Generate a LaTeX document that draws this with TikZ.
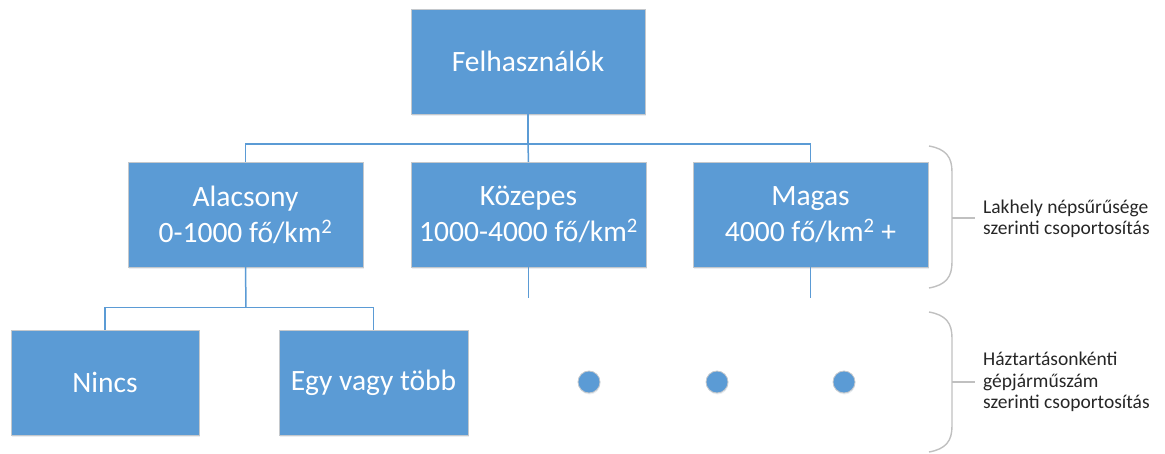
\documentclass[tikz,border=0pt]{standalone}
\usepackage{fontspec}
\setmainfont{Carlito}
\usetikzlibrary{shadows}
\definecolor{boxblue}{HTML}{5B9BD5}
\definecolor{boxedge}{HTML}{C4C8CC}
\definecolor{bracegray}{HTML}{C0C0C0}
\begin{document}
\begin{tikzpicture}[x=1pt,y=-1pt,
  unit/.style={rectangle, fill=boxblue, draw=boxedge, line width=0.8pt,
    text=white, align=center, inner sep=0pt, outer sep=0pt,
    minimum height=105pt,
    font=\fontsize{29.5}{36}\selectfont,
    drop shadow={shadow xshift=0.8pt, shadow yshift=-2pt, opacity=0.10, fill=boxblue!60!black}},
  wide/.style={unit, minimum width=235pt},
  narrow/.style={unit, minimum width=188pt},
  more/.style={circle, fill=boxblue, draw=boxedge, line width=0.8pt,
    minimum size=22pt, inner sep=0pt,
    drop shadow={shadow xshift=0.5pt, shadow yshift=-1.5pt, opacity=0.10, fill=boxblue!60!black}},
  conn/.style={draw=boxblue, line width=1.5pt},
  bracket/.style={draw=bracegray, line width=1.4pt},
  note/.style={anchor=west, align=left, inner sep=0pt, text=black!85,
    font=\fontsize{19.5}{21.5}\selectfont}]
\useasboundingbox (0,0) rectangle (1165,454);

% top level
\node[wide, minimum width=234pt] (F) at (528,61.5) {Felhasználók};

% population density groups
\node[wide] (A) at (245.5,214.5) {Alacsony\\0-1000 fő/km\textsuperscript{2}};
\node[wide] (K) at (528.5,214.5) {Közepes\\1000-4000 fő/km\textsuperscript{2}};
\node[wide] (M) at (810.5,214.5) {Magas\\4000 fő/km\textsuperscript{2} +};

% vehicle count groups
\node[narrow] (N) at (105,382.5) {Nincs};
\node[narrow, minimum width=189pt] (E) at (373.5,382.5) {Egy vagy több};
\node[more] (d1) at (589,382) {};
\node[more] (d2) at (717,382) {};
\node[more] (d3) at (844,382) {};

% connectors
\coordinate (bus) at (528,144);
\coordinate (abus) at (246,307.5);
\coordinate (kend) at (528.5,298);
\coordinate (mend) at (810.5,298);
\draw[conn] (F.south) -- (bus);
\draw[conn] (bus) -| (A.north);
\draw[conn] (bus) -| (M.north);
\draw[conn] (K.north) -- (bus);
\draw[conn] (K.south) -- (kend);
\draw[conn] (M.south) -- (mend);
\draw[conn] (A.south) -- (abus);
\draw[conn] (abus) -| (N.north);
\draw[conn] (abus) -| (E.north);

% brackets with labels
\coordinate (b1t) at (929,146);
\coordinate (b1b) at (929,288);
\coordinate (b1m) at (952,218);
\coordinate (b1e) at (975,218);
\draw[bracket] (b1t) .. controls (946,149) and (952,157) .. (952,172)
  -- (952,262) .. controls (952,277) and (946,285) .. (b1b);
\draw[bracket] (b1m) -- (b1e);
\node[note] (L1) at (983,219) {Lakhely népsűrűsége\\szerinti csoportosítás};

\coordinate (b2t) at (929,312);
\coordinate (b2b) at (929,452);
\coordinate (b2m) at (952,382);
\coordinate (b2e) at (975,382);
\draw[bracket] (b2t) .. controls (946,315) and (952,323) .. (952,338)
  -- (952,426) .. controls (952,441) and (946,449) .. (b2b);
\draw[bracket] (b2m) -- (b2e);
\node[note] (L2) at (983,382) {Háztartásonkénti\\gépjárműszám\\szerinti csoportosítás};
\end{tikzpicture}
\end{document}
